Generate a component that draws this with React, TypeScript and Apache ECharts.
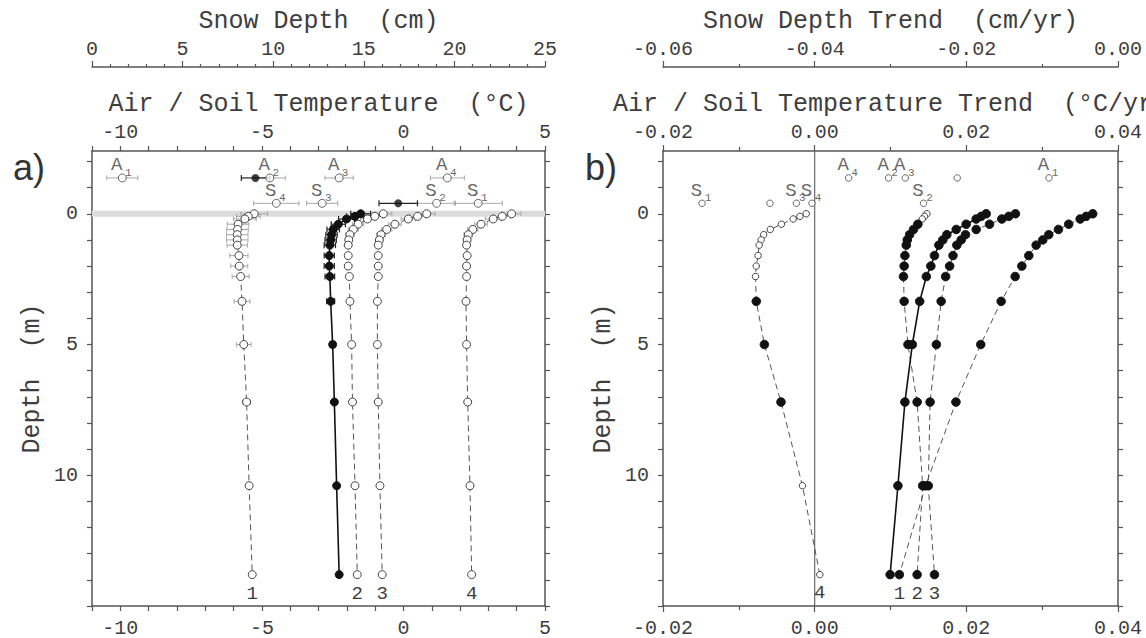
import React, { useEffect, useRef } from "react";
import * as echarts from "echarts";

// ---------------- data ----------------
const depths = [0, 0.1, 0.2, 0.4, 0.6, 0.8, 1.0, 1.2, 1.6, 2.0, 2.4, 3.35, 5.0, 7.2, 10.4, 13.8];

// panel a : mean air / soil temperature (°C)
const tempProfile1 = [-5.27, -5.48, -5.6, -5.84, -5.86, -5.87, -5.87, -5.87, -5.81, -5.8, -5.75, -5.7, -5.64, -5.54, -5.45, -5.34];
const tempProfile2 = [-0.71, -1.01, -1.27, -1.6, -1.77, -1.89, -1.93, -1.95, -1.95, -1.95, -1.91, -1.89, -1.83, -1.8, -1.71, -1.63];
const tempProfile3 = [0.82, 0.5, 0.17, -0.3, -0.59, -0.79, -0.85, -0.89, -0.89, -0.89, -0.89, -0.92, -0.92, -0.89, -0.83, -0.75];
const tempProfile4 = [3.82, 3.49, 3.17, 2.74, 2.45, 2.29, 2.25, 2.23, 2.25, 2.23, 2.23, 2.21, 2.23, 2.27, 2.35, 2.41];
const tempProfileMean = [-1.51, -1.71, -2.01, -2.3, -2.48, -2.54, -2.57, -2.6, -2.62, -2.62, -2.6, -2.57, -2.5, -2.44, -2.36, -2.27];

const tempErr1 = [0.47, 0.42, 0.4, 0.38, 0.38, 0.38, 0.38, 0.36, 0.32, 0.3, 0.3, 0.28, 0.26, 0.14, 0.06, 0];
const tempErr2 = [0.3, 0.28, 0.25, 0.2, 0.18, 0.15, 0.12, 0.1, 0.08, 0.06, 0.05, 0, 0, 0, 0, 0];
const tempErr3 = [0.3, 0.28, 0.25, 0.22, 0.18, 0.15, 0.12, 0.1, 0.08, 0.06, 0.05, 0, 0, 0, 0, 0];
const tempErr4 = [0.33, 0.3, 0.28, 0.22, 0.18, 0.15, 0.12, 0.1, 0.08, 0.06, 0.05, 0, 0, 0, 0, 0];
const tempErrMean = [0.35, 0.3, 0.28, 0.25, 0.22, 0.2, 0.2, 0.2, 0.18, 0.18, 0.17, 0.14, 0.1, 0.06, 0.03, 0];

const stationNames = ["1", "2", "3", "4"];
const airRowDepth = -1.37;
const surfRowDepth = -0.4;
const airTemp = [-9.93, -4.72, -2.27, 1.55];
const airTempErr = [0.55, 0.55, 0.5, 0.6];
const surfTemp = [2.64, 1.17, -2.87, -4.49];
const surfTempErr = [0.85, 0.67, 0.55, 0.8];
const snowDepth = [9.02, 16.9];
const snowDepthErr = [0.78, 1.06];

// panel b : trends (°C/yr)
const trendProfile1 = [0.03667, 0.0358, 0.03501, 0.0335, 0.03215, 0.03087, 0.03008, 0.02921, 0.02824, 0.02732, 0.02644, 0.02459, 0.0219, 0.01863, 0.01463, 0.01117];
const trendProfile2 = [0.0148, 0.01449, 0.01419, 0.01361, 0.01304, 0.01252, 0.01221, 0.01208, 0.0119, 0.0118, 0.01171, 0.0118, 0.0123, 0.01351, 0.01424, 0.01351];
const trendProfile3 = [0.02648, 0.0256, 0.02468, 0.02306, 0.0213, 0.01989, 0.01932, 0.01875, 0.01824, 0.0178, 0.01727, 0.01668, 0.01605, 0.01522, 0.01498, 0.0158];
const trendProfile4 = [-0.00112, -0.00195, -0.00283, -0.00439, -0.00585, -0.00673, -0.00707, -0.00732, -0.00746, -0.0077, -0.0078, -0.0077, -0.00663, -0.00444, -0.00161, 0.00068];
const trendProfileMean = [0.02262, 0.02196, 0.0213, 0.01998, 0.01867, 0.01743, 0.0169, 0.01638, 0.0158, 0.01532, 0.01473, 0.01385, 0.01288, 0.0119, 0.01098, 0.00995];
const trendSig2 = [0, 0, 0, 1, 1, 1, 1, 1, 1, 1, 1, 1, 1, 1, 1, 1];
const trendSig4 = [0, 0, 0, 0, 0, 0, 0, 0, 0, 0, 0, 1, 1, 1, 0, 0];

const airTrend = [0.0309, 0.00975, 0.01195, 0.00448];
const surfTrend = [-0.01485, 0.01436, -0.00241, -0.00035];
const snowTrend = [-0.0212, -0.0459];

// axis ticks / labels
const tempTicksA = [-11, -10, -9, -8, -7, -6, -5, -4, -3, -2, -1, 0, 1, 2, 3, 4, 5];
const tempLabelsA = [-10, -5, 0, 5];
const depthTicks = [-2, -1, 0, 1, 2, 3, 4, 5, 6, 7, 8, 9, 10, 11, 12, 13, 14, 15];
const depthLabels = [0, 5, 10];
const groundSurfaceDepth = 0;
const zeroTrend = 0;

// ---------------- styling ----------------
const FONT = '"Liberation Mono", "DejaVu Sans Mono", monospace';
const TXT = "#3e3e3e";
const AX = "#555";

const axisLine = { show: true, onZero: false, lineStyle: { color: AX, width: 1.5 } };
const labelStyle = { fontSize: 20, fontFamily: FONT, color: TXT };
const nameStyle = { fontSize: 25, fontFamily: FONT, color: TXT };
const fmt2 = (v: number) => (Math.abs(v) < 1e-9 ? 0 : v).toFixed(2);

function errorBarSeries(data: number[][], xAxisIndex: number, yAxisIndex: number, color: string, width: number, cap: number) {
  return {
    type: "custom",
    xAxisIndex,
    yAxisIndex,
    z: 2,
    silent: true,
    encode: { x: [0, 1], y: 2 },
    data,
    renderItem: (_p: any, api: any) => {
      const a = api.coord([api.value(0), api.value(2)]);
      const b = api.coord([api.value(1), api.value(2)]);
      const style = { stroke: color, lineWidth: width, fill: null };
      return {
        type: "group",
        children: [
          { type: "line", shape: { x1: a[0], y1: a[1], x2: b[0], y2: b[1] }, style },
          { type: "line", shape: { x1: a[0], y1: a[1] - cap, x2: a[0], y2: a[1] + cap }, style },
          { type: "line", shape: { x1: b[0], y1: b[1] - cap, x2: b[0], y2: b[1] + cap }, style },
        ],
      };
    },
  };
}

function bars(centers: number[], errs: number[], ys: number[]) {
  const out: number[][] = [];
  centers.forEach((c, i) => {
    if (errs[i] > 0) out.push([c - errs[i], c + errs[i], ys[i]]);
  });
  return out;
}

function profileSeries(values: number[], xAxisIndex: number, yAxisIndex: number, o: any) {
  return {
    type: "line",
    xAxisIndex,
    yAxisIndex,
    z: 3,
    silent: true,
    symbol: "circle",
    lineStyle: { color: o.lineColor, width: o.lineWidth, type: o.dashed ? [6, 4] : "solid" },
    data: values.map((v, i) => {
      const filled = o.filled(i);
      const item: any = {
        value: [v, depths[i]],
        symbolSize: filled ? o.size : o.openSize,
        itemStyle: filled
          ? { color: "#111", borderColor: "#111", borderWidth: 1 }
          : { color: "#fff", borderColor: "#444", borderWidth: 1 },
      };
      if (o.label && i === values.length - 1) {
        item.label = {
          show: true, formatter: o.label, position: "bottom", distance: 5,
          fontSize: 19, fontFamily: FONT, color: TXT, textBorderWidth: 0,
        };
      }
      return item;
    }),
  };
}

function labelledPoints(xs: number[], rowDepth: number, letter: string, xAxisIndex: number, yAxisIndex: number, size: number) {
  const pts = xs.map((x) => [x, rowDepth]);
  const h = size / 2;
  return [
    {
      type: "scatter",
      xAxisIndex,
      yAxisIndex,
      z: 5,
      silent: true,
      symbolSize: size,
      itemStyle: { color: "#fff", borderColor: "#444", borderWidth: 1 },
      data: pts.map((d) => ({
        value: d,
        label: {
          show: true, formatter: letter, position: [h - 5, h - 12], align: "center", verticalAlign: "middle",
          fontSize: 19, fontFamily: FONT, color: TXT, textBorderWidth: 0,
        },
      })),
    },
    {
      type: "scatter",
      xAxisIndex,
      yAxisIndex,
      z: 4,
      silent: true,
      symbolSize: 2,
      itemStyle: { color: "rgba(255,255,255,0)" },
      data: pts.map((d, i) => ({
        value: d,
        label: {
          show: true, formatter: stationNames[i], position: [1 + 6, 1 - 5], align: "center", verticalAlign: "middle",
          fontSize: 11, fontFamily: FONT, color: TXT, textBorderWidth: 0,
        },
      })),
    },
  ];
}

function buildOption() {
  const xAxis = [
    // 0 a bottom
    {
      gridIndex: 0, type: "value", position: "bottom", min: -11, max: 5, axisLine, splitLine: { show: false },
      axisTick: { show: true, customValues: tempTicksA, length: 5, lineStyle: { color: AX, width: 1.2 } },
      axisLabel: { ...labelStyle, customValues: tempLabelsA, margin: 12 },
    },
    // 1 a top
    {
      gridIndex: 0, type: "value", position: "top", min: -11, max: 5, axisLine, splitLine: { show: false },
      axisTick: { show: true, customValues: tempTicksA, length: 5, lineStyle: { color: AX, width: 1.2 } },
      axisLabel: { ...labelStyle, customValues: tempLabelsA, margin: 9 },
      name: "Air / Soil Temperature  (°C)", nameLocation: "middle", nameGap: 33, nameTextStyle: nameStyle,
    },
    // 2 a snow
    {
      gridIndex: 0, type: "value", position: "top", offset: 84, min: 0, max: 25, interval: 5, axisLine, splitLine: { show: false },
      axisTick: { show: true, length: 6, lineStyle: { color: AX, width: 1.2 } },
      minorTick: { show: true, splitNumber: 5, length: 3, lineStyle: { color: AX, width: 1.2 } },
      axisLabel: { ...labelStyle, margin: 8 },
      name: "Snow Depth  (cm)", nameLocation: "middle", nameGap: 32, nameTextStyle: nameStyle,
    },
    // 3 b bottom
    {
      gridIndex: 1, type: "value", position: "bottom", min: -0.02, max: 0.04, interval: 0.02, axisLine, splitLine: { show: false },
      axisTick: { show: true, length: 6, lineStyle: { color: AX, width: 1.2 } },
      minorTick: { show: true, splitNumber: 2, length: 4, lineStyle: { color: AX, width: 1.2 } },
      axisLabel: { ...labelStyle, margin: 12, formatter: fmt2 },
    },
    // 4 b top
    {
      gridIndex: 1, type: "value", position: "top", min: -0.02, max: 0.04, interval: 0.02, axisLine, splitLine: { show: false },
      axisTick: { show: true, length: 6, lineStyle: { color: AX, width: 1.2 } },
      minorTick: { show: true, splitNumber: 2, length: 4, lineStyle: { color: AX, width: 1.2 } },
      axisLabel: { ...labelStyle, margin: 9, formatter: fmt2 },
      name: "Air / Soil Temperature Trend  (°C/yr)", nameLocation: "middle", nameGap: 33, nameTextStyle: nameStyle,
    },
    // 5 b snow trend
    {
      gridIndex: 1, type: "value", position: "top", offset: 84, min: -0.06, max: 0, interval: 0.02, axisLine, splitLine: { show: false },
      axisTick: { show: true, length: 6, lineStyle: { color: AX, width: 1.2 } },
      minorTick: { show: true, splitNumber: 2, length: 3, lineStyle: { color: AX, width: 1.2 } },
      axisLabel: { ...labelStyle, margin: 8, formatter: fmt2 },
      name: "Snow Depth Trend  (cm/yr)", nameLocation: "middle", nameGap: 32, nameTextStyle: nameStyle,
    },
  ];

  const yBase = (gridIndex: number, position: string, labels: boolean) => ({
    gridIndex, type: "value", position, inverse: true, min: -2.4, max: 15, axisLine, splitLine: { show: false },
    axisTick: { show: true, customValues: depthTicks, length: 5, lineStyle: { color: AX, width: 1.2 } },
    axisLabel: labels ? { ...labelStyle, customValues: depthLabels, margin: 14 } : { show: false },
    ...(labels ? { name: "Depth  (m)", nameLocation: "middle", nameGap: 47, nameTextStyle: nameStyle } : {}),
  });
  const yAxis = [yBase(0, "left", true), yBase(0, "right", false), yBase(1, "left", true), yBase(1, "right", false)];

  const grayErr = "#a8a8a8";
  const series: any[] = [];

  // ground surface band (panel a)
  series.push({
    type: "custom", xAxisIndex: 0, yAxisIndex: 0, z: 1, silent: true,
    data: [[0, groundSurfaceDepth]],
    renderItem: (params: any, api: any) => {
      const p = api.coord([api.value(0), api.value(1)]);
      const cs = params.coordSys;
      return { type: "rect", shape: { x: cs.x, y: p[1] - 3, width: cs.width, height: 6 }, style: { fill: "#dcdcdc" } };
    },
  });
  // zero trend line (panel b)
  series.push({
    type: "custom", xAxisIndex: 3, yAxisIndex: 2, z: 1, silent: true,
    data: [[zeroTrend, 0]],
    renderItem: (params: any, api: any) => {
      const p = api.coord([api.value(0), api.value(1)]);
      const cs = params.coordSys;
      return { type: "line", shape: { x1: p[0], y1: cs.y, x2: p[0], y2: cs.y + cs.height }, style: { stroke: "#6a6a6a", lineWidth: 1.2 } };
    },
  });

  // panel a error bars
  series.push(errorBarSeries(bars(tempProfile1, tempErr1, depths), 0, 0, grayErr, 1, 2.5));
  series.push(errorBarSeries(bars(tempProfile2, tempErr2, depths), 0, 0, grayErr, 1, 2.5));
  series.push(errorBarSeries(bars(tempProfile3, tempErr3, depths), 0, 0, grayErr, 1, 2.5));
  series.push(errorBarSeries(bars(tempProfile4, tempErr4, depths), 0, 0, grayErr, 1, 2.5));
  series.push(errorBarSeries(bars(tempProfileMean, tempErrMean, depths), 0, 0, "#222", 1.2, 3));
  series.push(errorBarSeries(bars(airTemp, airTempErr, airTemp.map(() => airRowDepth)), 0, 0, grayErr, 1, 2.5));
  series.push(errorBarSeries(bars(surfTemp, surfTempErr, surfTemp.map(() => surfRowDepth)), 0, 0, grayErr, 1, 2.5));
  series.push(errorBarSeries(bars(snowDepth, snowDepthErr, [airRowDepth, surfRowDepth]), 2, 0, "#222", 1.2, 3));

  // panel a profiles
  const openA = { dashed: true, lineColor: "#555", lineWidth: 1, filled: () => false, size: 8, openSize: 8 };
  series.push(profileSeries(tempProfile1, 0, 0, { ...openA, label: "1" }));
  series.push(profileSeries(tempProfile2, 0, 0, { ...openA, label: "2" }));
  series.push(profileSeries(tempProfile3, 0, 0, { ...openA, label: "3" }));
  series.push(profileSeries(tempProfile4, 0, 0, { ...openA, label: "4" }));
  series.push(profileSeries(tempProfileMean, 0, 0, { dashed: false, lineColor: "#111", lineWidth: 1.6, filled: () => true, size: 8, openSize: 8 }));

  series.push(...labelledPoints(airTemp, airRowDepth, "A", 0, 0, 8));
  series.push(...labelledPoints(surfTemp, surfRowDepth, "S", 0, 0, 8));
  series.push({
    type: "scatter", xAxisIndex: 2, yAxisIndex: 0, z: 5, silent: true, symbolSize: 8,
    itemStyle: { color: "#111" },
    data: [[snowDepth[0], airRowDepth], [snowDepth[1], surfRowDepth]],
  });

  // panel b profiles
  const filledB = { dashed: true, lineColor: "#555", lineWidth: 1, size: 8.5, openSize: 6.5 };
  series.push(profileSeries(trendProfile1, 3, 2, { ...filledB, filled: () => true, label: "1" }));
  series.push(profileSeries(trendProfile2, 3, 2, { ...filledB, filled: (i: number) => trendSig2[i] === 1, label: "2" }));
  series.push(profileSeries(trendProfile3, 3, 2, { ...filledB, filled: () => true, label: "3" }));
  series.push(profileSeries(trendProfile4, 3, 2, { ...filledB, filled: (i: number) => trendSig4[i] === 1, label: "4" }));
  series.push(profileSeries(trendProfileMean, 3, 2, { dashed: false, lineColor: "#111", lineWidth: 1.6, filled: () => true, size: 8.5, openSize: 6.5 }));

  series.push(...labelledPoints(airTrend, airRowDepth, "A", 3, 2, 6.5));
  series.push(...labelledPoints(surfTrend, surfRowDepth, "S", 3, 2, 6.5));
  series.push({
    type: "scatter", xAxisIndex: 5, yAxisIndex: 2, z: 5, silent: true, symbolSize: 6.5,
    itemStyle: { color: "#fff", borderColor: "#444", borderWidth: 1 },
    data: [[snowTrend[0], airRowDepth], [snowTrend[1], surfRowDepth]],
  });

  return {
    animation: false,
    backgroundColor: "#fff",
    title: [
      { text: "a)", left: 8, top: 144, textStyle: { fontSize: 36, fontWeight: "normal", fontFamily: '"Liberation Sans", sans-serif', color: "#333" } },
      { text: "b)", left: 580, top: 144, textStyle: { fontSize: 36, fontWeight: "normal", fontFamily: '"Liberation Sans", sans-serif', color: "#333" } },
    ],
    grid: [
      { left: 92, top: 151, width: 453, height: 455, containLabel: false, outerBoundsMode: "none" },
      { left: 663, top: 151, width: 455, height: 455, containLabel: false, outerBoundsMode: "none" },
    ],
    xAxis,
    yAxis,
    series,
  };
}

export default function App() {
  const ref = useRef<HTMLDivElement>(null);
  useEffect(() => {
    if (!ref.current) return;
    const chart = echarts.init(ref.current, undefined, { renderer: "svg" });
    chart.setOption(buildOption() as any);
    return () => chart.dispose();
  }, []);
  return <div ref={ref} style={{ position: "fixed", left: 0, top: 0, width: 1146, height: 638, background: "#fff" }} />;
}
